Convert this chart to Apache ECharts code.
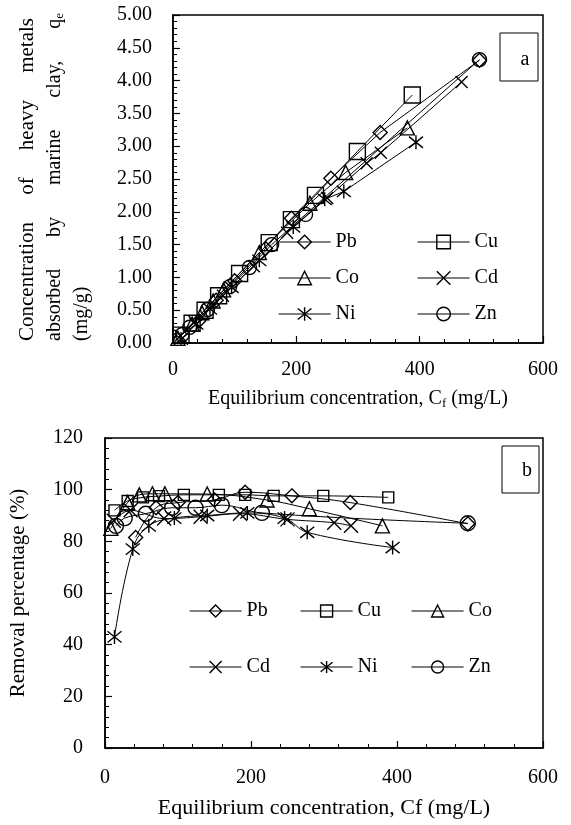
<!DOCTYPE html>
<html><head><meta charset="utf-8">
<script src="https://cdn.jsdelivr.net/npm/echarts@6/dist/echarts.min.js"></script>
<style>html,body{margin:0;padding:0;background:#fff}#c{width:571px;height:825px}</style>
</head><body><div id="c"></div>
<script>
// ---------- DATA ----------
const metals = ['Pb', 'Cu', 'Co', 'Cd', 'Ni', 'Zn'];
// Panel a: equilibrium concentration (mg/L) vs q_e (mg/g)
const pbXa = [42, 70, 100, 150, 192, 256, 336, 497];
const pbQ  = [0.34, 0.65, 0.95, 1.44, 1.90, 2.51, 3.21, 4.31];
const cuXa = [13, 31, 52, 74, 108, 156, 192, 231, 299, 388];
const cuQ  = [0.12, 0.30, 0.50, 0.72, 1.06, 1.53, 1.88, 2.25, 2.92, 3.78];
const coXa = [8, 31, 47, 65, 82, 140, 222, 280, 380];
const coQ  = [0.07, 0.29, 0.46, 0.64, 0.81, 1.38, 2.13, 2.60, 3.28];
const cdXa = [12, 35, 81, 131, 185, 250, 314, 337, 468];
const cdQ  = [0.11, 0.32, 0.72, 1.17, 1.68, 2.21, 2.74, 2.90, 3.98];
const niXa = [13, 38, 60, 95, 140, 195, 246, 277, 394];
const niQ  = [0.06, 0.29, 0.52, 0.85, 1.26, 1.77, 2.19, 2.31, 3.06];
const znXa = [15, 27, 56, 92, 124, 160, 215, 497];
const znQ  = [0.13, 0.24, 0.51, 0.86, 1.15, 1.50, 1.96, 4.32];
// Panel b: equilibrium concentration (mg/L) vs removal (%)
const pbXb = [42, 70, 100, 150, 192, 256, 336, 497];
const pbR  = [81.5, 93, 95, 96, 99, 97.6, 95, 86.8];
const cuXb = [13, 31, 52, 74, 108, 156, 192, 231, 299, 388];
const cuR  = [92, 95.6, 97, 97.5, 98, 98, 98, 97.6, 97.6, 97];
const coXb = [8, 31, 47, 65, 82, 140, 222, 280, 380];
const coR  = [85, 95, 98, 98.4, 98.4, 98.3, 96, 92.6, 86];
const cdXb = [12, 35, 81, 131, 185, 250, 314, 337];
const cdR  = [88, 92, 88.8, 89.5, 90.7, 88.5, 87.2, 86];
const niXb = [13, 38, 60, 95, 140, 195, 246, 277, 394];
const niR  = [43, 77, 86, 89, 90, 91, 89, 83.5, 77.6];
const znXb = [15, 27, 56, 92, 124, 160, 215, 497];
const znR  = [86, 89, 90.7, 93, 93, 94, 91, 87];
// Tick labels
const xTicks = [0, 200, 400, 600];
const yTicksA = [0, 0.5, 1, 1.5, 2, 2.5, 3, 3.5, 4, 4.5, 5];
const yTicksB = [0, 20, 40, 60, 80, 100, 120];

// ---------- BUILD ----------
const FF = '"Liberation Serif", "Times New Roman", serif';
const zip = (xs, ys) => xs.map((x, i) => [x, ys[i]]);
const A = {Pb:[pbXa,pbQ], Cu:[cuXa,cuQ], Co:[coXa,coQ], Cd:[cdXa,cdQ], Ni:[niXa,niQ], Zn:[znXa,znQ]};
const B = {Pb:[pbXb,pbR], Cu:[cuXb,cuR], Co:[coXb,coR], Cd:[cdXb,cdR], Ni:[niXb,niR], Zn:[znXb,znR]};
const CROSS = 'path://M0,0L10,10M10,0L0,10';
const STAR = 'path://M1,1L9,9M9,1L1,9M5,0L5,10';
const SYM = {Pb:'diamond', Cu:'rect', Co:'triangle', Cd:CROSS, Ni:STAR, Zn:'circle'};
const SIZE_A = {Pb:14, Cu:16, Co:14, Cd:12, Ni:14, Zn:14};
const SIZE_B = {Pb:14, Cu:11, Co:14, Cd:14, Ni:14, Zn:15};
const clear = 'rgba(255,255,255,0)';

function mkSeries(name, data, idx, symbol, size, smooth) {
  return {
    type: 'line', name, data, xAxisIndex: idx, yAxisIndex: idx,
    symbol, symbolSize: size, showAllSymbol: true, smooth,
    lineStyle: {color: '#000', width: 1},
    itemStyle: {color: clear, borderColor: '#000', borderWidth: 1.4},
    emphasis: {disabled: true}, animation: false
  };
}
const series = [];
metals.forEach(m => series.push(mkSeries(m, zip(A[m][0], A[m][1]), 0, SYM[m], SIZE_A[m], false)));
metals.forEach(m => series.push(mkSeries(m + '_b', zip(B[m][0], B[m][1]), 1, SYM[m], SIZE_B[m], 0.4)));

const lbl = {color: '#000', fontSize: 20, fontFamily: FF};
function xAxis(idx, nameGap, name, rich, margin, nameSize) {
  return {
    gridIndex: idx, type: 'value', min: 0, max: 600, interval: 200,
    axisLine: {show: true, onZero: false, lineStyle: {color: '#000', width: 1.5}},
    axisTick: {show: true, inside: true, length: 7, lineStyle: {color: '#000', width: 1.2}},
    minorTick: {show: true, splitNumber: 5, length: 4, lineStyle: {color: '#000', width: 1}},
    splitLine: {show: false},
    axisLabel: Object.assign({margin, formatter: v => xTicks.includes(v) ? String(v) : ''}, lbl),
    name, nameLocation: 'middle', nameGap,
    nameTextStyle: Object.assign({}, lbl, {rich, fontSize: nameSize})
  };
}
function yAxis(idx, max, interval, fmt, margin, name, nameGap, ticks) {
  return {
    gridIndex: idx, type: 'value', min: 0, max, interval,
    axisLine: {show: true, onZero: false, lineStyle: {color: '#000', width: 1.5}},
    axisTick: {show: true, inside: true, length: 7, lineStyle: {color: '#000', width: 1.2}},
    minorTick: {show: true, splitNumber: 5, length: 4, lineStyle: {color: '#000', width: 1}},
    splitLine: {show: false},
    axisLabel: Object.assign({margin, formatter: v => ticks.includes(v) ? fmt(v) : ''}, lbl),
    name, nameLocation: 'middle', nameGap, nameTextStyle: Object.assign({}, lbl, {fontSize: 21})
  };
}

// Y title of panel a: three justified rotated lines, words placed along each line
const cv = document.createElement('canvas').getContext('2d');
function tw(s, size) { cv.font = size + 'px ' + FF; return cv.measureText(s).width; }
const graphic = [];
function justifyLine(words, x, yBottom, yTop, fs) {
  const widths = words.map(w => w.sub ? tw(w.t, fs) + tw(w.sub, 13) : tw(w.t, fs));
  const total = widths.reduce((a, b) => a + b, 0);
  const gap = words.length > 1 ? ((yBottom - yTop) - total) / (words.length - 1) : 0;
  let cur = 0;
  words.forEach((w, i) => {
    const cy = yBottom - (cur + widths[i] / 2);
    cur += widths[i] + gap;
    const style = w.sub ? {
      text: '{n|' + w.t + '}{s|' + w.sub + '}',
      rich: {n: {fontSize: fs, fontFamily: FF, fill: '#000'}, s: {fontSize: 13, fontFamily: FF, fill: '#000', padding: [10, 0, 0, 0]}},
      fill: '#000', align: 'center', verticalAlign: 'middle', fontFamily: FF, fontSize: fs
    } : {text: w.t, fill: '#000', align: 'center', verticalAlign: 'middle', fontFamily: FF, fontSize: fs};
    graphic.push({type: 'text', x, y: cy, rotation: Math.PI / 2, style, silent: true});
  });
}
justifyLine([{t:'Concentration'},{t:'of'},{t:'heavy'},{t:'metals'}], 27, 341, 18, 21);
justifyLine([{t:'absorbed'},{t:'by'},{t:'marine'},{t:'clay,'},{t:'q', sub:'e'}], 55, 341, 13, 20);
justifyLine([{t:'(mg/g)'}], 82, 341, 341 - tw('(mg/g)', 20), 20);
graphic.push({type:'rect', shape:{x:500, y:33, width:38, height:48}, style:{fill:'#fff', stroke:'#000', lineWidth:1}, silent:true});
graphic.push({type:'text', x:525, y:60, style:{text:'a', fill:'#000', fontFamily:FF, fontSize:20, align:'center', verticalAlign:'middle'}, silent:true});
graphic.push({type:'rect', shape:{x:502, y:446, width:37, height:47}, style:{fill:'#fff', stroke:'#000', lineWidth:1}, silent:true});
graphic.push({type:'text', x:527, y:471, style:{text:'b', fill:'#000', fontFamily:FF, fontSize:20, align:'center', verticalAlign:'middle'}, silent:true});

const legCommon = {
  orient: 'vertical', itemWidth: 52,
  textStyle: {color: '#000', fontSize: 20, fontFamily: FF},
  itemStyle: {color: clear, borderColor: '#000', borderWidth: 1.4},
  lineStyle: {color: '#000', width: 1.2}, selectedMode: false, padding: 0
};
const legend = [
  Object.assign({}, legCommon, {left: 278, top: 232, itemHeight: 17, itemGap: 16, data: ['Pb', 'Co', 'Ni']}),
  Object.assign({}, legCommon, {left: 417, top: 232, itemHeight: 17, itemGap: 16, data: ['Cu', 'Cd', 'Zn']}),
  Object.assign({}, legCommon, {left: 189, top: 601, itemHeight: 15, itemGap: 36, data: ['Pb_b', 'Cd_b'], formatter: n => n.replace('_b', '')}),
  Object.assign({}, legCommon, {left: 300, top: 601, itemHeight: 15, itemGap: 36, data: ['Cu_b', 'Ni_b'], formatter: n => n.replace('_b', '')}),
  Object.assign({}, legCommon, {left: 411, top: 601, itemHeight: 15, itemGap: 36, data: ['Co_b', 'Zn_b'], formatter: n => n.replace('_b', '')})
];

const richSub = {
  t: {fontSize: 20, fontFamily: FF, color: '#000'},
  s: {fontSize: 13, fontFamily: FF, color: '#000', padding: [10, 0, 0, 0]}
};
const option = {
  backgroundColor: '#fff',
  animation: false,
  grid: [
    {left: 173, top: 15, width: 370, height: 328, show: true, borderColor: '#000', borderWidth: 1.5, backgroundColor: 'transparent'},
    {left: 102, top: 438, width: 441, height: 310, show: true, borderColor: '#000', borderWidth: 1.5, backgroundColor: 'transparent'}
  ],
  xAxis: [
    xAxis(0, 44, '{t|Equilibrium concentration, C}{s|f}{t| (mg/L)}', richSub, 17, 20),
    xAxis(1, 49, 'Equilibrium concentration, Cf (mg/L)', undefined, 20, 22)
  ],
  yAxis: [
    yAxis(0, 5, 0.5, v => v.toFixed(2), 21, '', 0, yTicksA),
    yAxis(1, 120, 20, v => String(v), 22, 'Removal percentage (%)', 76, yTicksB)
  ],
  legend,
  series,
  graphic
};
const chart = echarts.init(document.getElementById('c'), null, {renderer: 'canvas'});
chart.setOption(option);
</script></body></html>
